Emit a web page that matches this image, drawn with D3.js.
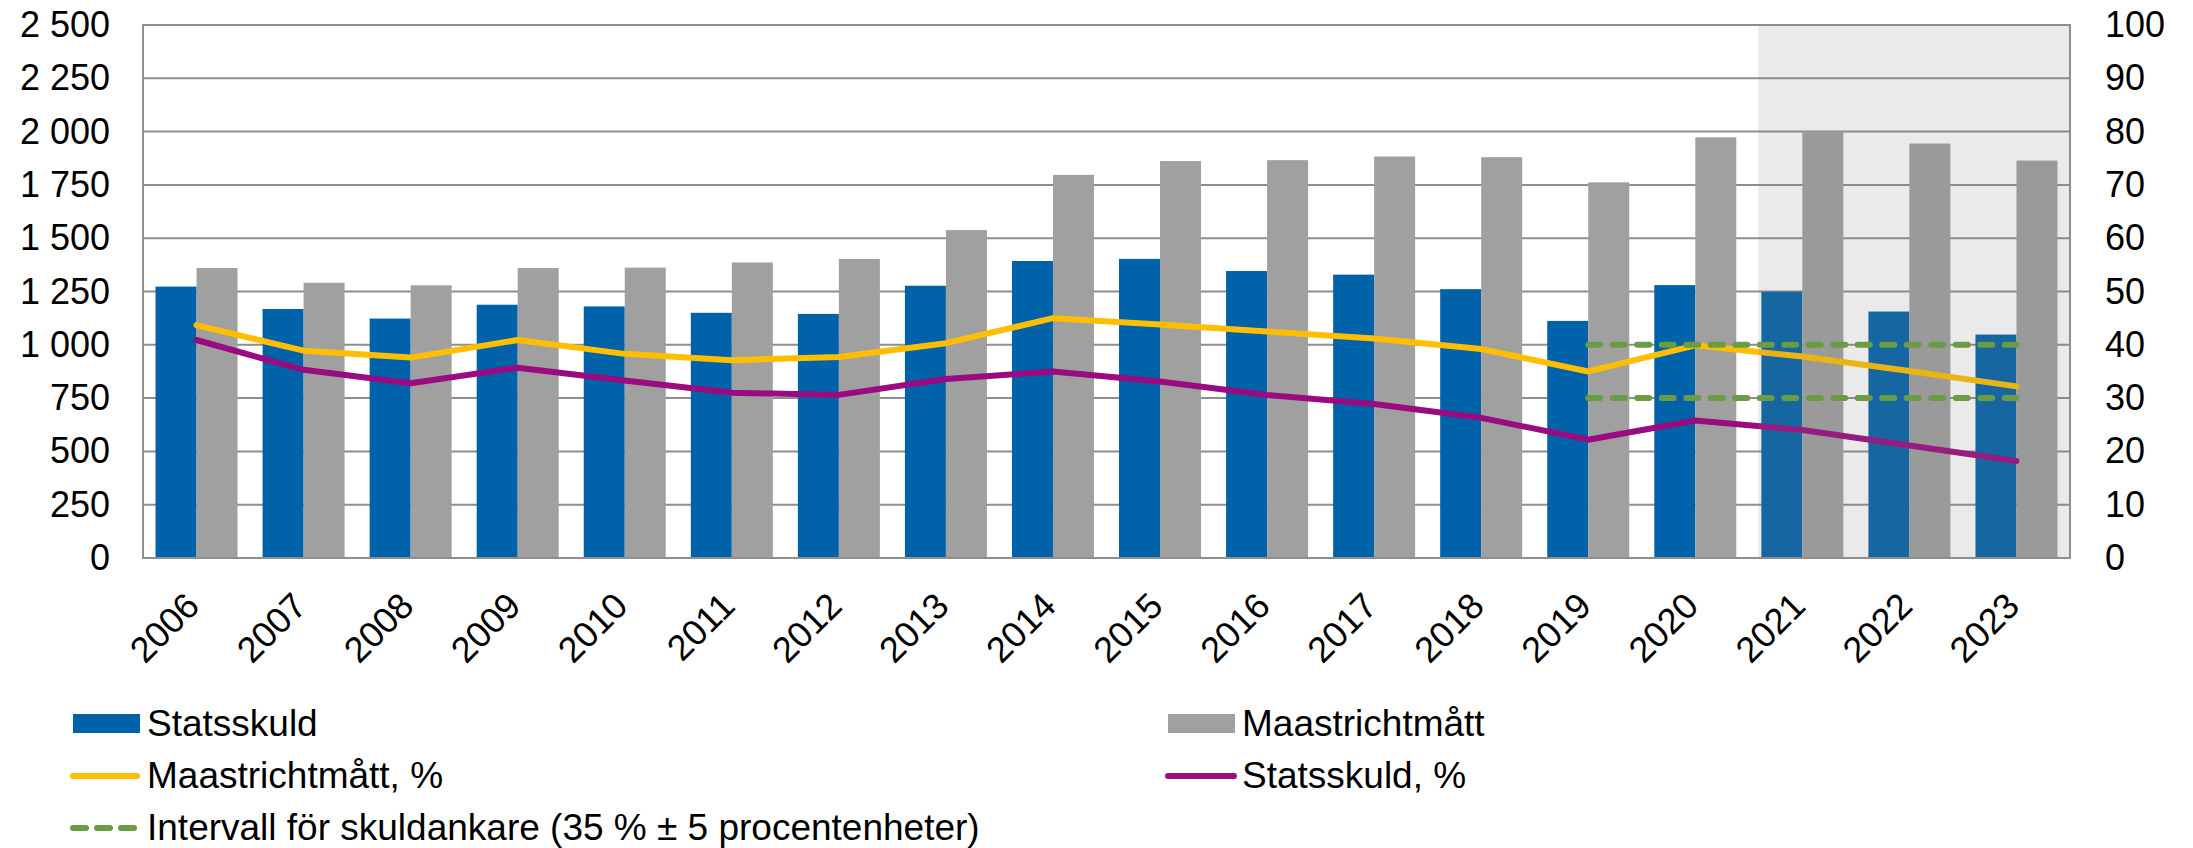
<!DOCTYPE html>
<html>
<head>
<meta charset="utf-8">
<script src="https://cdn.jsdelivr.net/npm/d3@7"></script>
<style>
  html, body { margin: 0; padding: 0; background: #ffffff; }
  svg text { font-family: "Liberation Sans", Arial, sans-serif; fill: #000; }
</style>
</head>
<body>
<svg id="chart" width="2193" height="848"></svg>
<script>
// ---------- data ----------
const years = ["2006","2007","2008","2009","2010","2011","2012","2013","2014","2015","2016","2017","2018","2019","2020","2021","2022","2023"];
const statsskuld = [1273,1168,1123,1188,1180,1150,1145,1277,1393,1403,1346,1329,1261,1112,1280,1249,1156,1048];
const maastricht = [1360,1291,1279,1360,1362,1386,1403,1538,1797,1862,1866,1883,1880,1762,1973,2001,1944,1864];
const maastrichtPct = [43.7,38.9,37.6,40.9,38.3,37.1,37.7,40.3,45.0,43.8,42.5,41.2,39.2,35.0,39.9,37.8,35.1,32.2];
const statsskuldPct = [40.9,35.3,32.8,35.7,33.3,31.0,30.6,33.6,35.0,33.1,30.6,28.9,26.3,22.2,25.8,24.0,21.1,18.2];
const anchorYears = ["2019","2020","2021","2022","2023"];
const anchorUpper = [40,40,40,40,40];
const anchorLower = [30,30,30,30,30];
const shadeFrom = "2021";
const leftTicks = [0,250,500,750,1000,1250,1500,1750,2000,2250,2500];
const rightTicks = [0,10,20,30,40,50,60,70,80,90,100];
const barSeries = ["Statsskuld","Maastrichtmått"];
const legendLabels = ["Statsskuld","Maastrichtmått","Maastrichtmått, %","Statsskuld, %","Intervall för skuldankare (35 % ± 5 procentenheter)"];

// ---------- styles ----------
const C = {
  blue: "#0062a8", gray: "#a0a0a0", yellow: "#ffbf00", purple: "#9a0a80",
  green: "#6a9b45", grid: "#8e8e8e", shade: "rgba(128,128,128,0.165)"
};
const FS = 36, LFS = 37;
const L = 143, R = 2070, T = 25, B = 558;

const svg = d3.select("#chart");

const x = d3.scaleBand().domain(years).range([L, R]).paddingInner(0.234).paddingOuter(0.117);
const x1 = d3.scaleBand().domain(barSeries).range([0, x.bandwidth()]);
const yL = d3.scaleLinear().domain([0, 2500]).range([B, T]);
const yR = d3.scaleLinear().domain([0, 100]).range([B, T]);
const cx = d => x(d) + x.bandwidth() / 2;

const loc = d3.formatLocale({decimal: ",", thousands: " ", grouping: [3], currency: ["", ""]});
const fmt = loc.format(",");

// gridlines
svg.append("g").selectAll("line").data(leftTicks).join("line")
  .attr("x1", L).attr("x2", R)
  .attr("y1", d => yL(d)).attr("y2", d => yL(d))
  .attr("stroke", C.grid).attr("stroke-width", 2);

// bars
const groups = svg.append("g").selectAll("g").data(years).join("g")
  .attr("transform", d => `translate(${x(d)},0)`);
groups.append("rect")
  .attr("x", x1("Statsskuld")).attr("width", x1.bandwidth())
  .attr("y", (d, i) => yL(statsskuld[i])).attr("height", (d, i) => B - yL(statsskuld[i]))
  .attr("fill", C.blue);
groups.append("rect")
  .attr("x", x1("Maastrichtmått")).attr("width", x1.bandwidth())
  .attr("y", (d, i) => yL(maastricht[i])).attr("height", (d, i) => B - yL(maastricht[i]))
  .attr("fill", C.gray);

// lines
const line = d3.line().x(d => cx(d[0])).y(d => yR(d[1]));
svg.append("path").datum(years.map((y, i) => [y, maastrichtPct[i]]))
  .attr("d", line).attr("fill", "none").attr("stroke", C.yellow)
  .attr("stroke-width", 6).attr("stroke-linejoin", "round").attr("stroke-linecap", "round");
svg.append("path").datum(years.map((y, i) => [y, statsskuldPct[i]]))
  .attr("d", line).attr("fill", "none").attr("stroke", C.purple)
  .attr("stroke-width", 6).attr("stroke-linejoin", "round").attr("stroke-linecap", "round");

// shaded forecast region
const shadeX = x(shadeFrom) - 3;
svg.append("rect").attr("x", shadeX).attr("y", T).attr("width", R - shadeX).attr("height", B - T)
  .attr("fill", C.shade);

// anchor interval dashed lines
[anchorUpper, anchorLower].forEach(arr => {
  svg.append("path").datum(anchorYears.map((y, i) => [y, arr[i]]))
    .attr("d", line).attr("fill", "none").attr("stroke", C.green)
    .attr("stroke-width", 6).attr("stroke-linecap", "round")
    .attr("stroke-dasharray", "12,12.5");
});

// plot border
svg.append("rect").attr("x", L).attr("y", T).attr("width", R - L).attr("height", B - T)
  .attr("fill", "none").attr("stroke", C.grid).attr("stroke-width", 2);

// left axis
const axL = svg.append("g").attr("transform", `translate(${L},0)`)
  .call(d3.axisLeft(yL).tickValues(leftTicks).tickFormat(fmt).tickSize(0).tickPadding(33));
axL.select(".domain").remove();
axL.selectAll("text").attr("font-size", FS).attr("font-family", "Liberation Sans, Arial, sans-serif").attr("fill", "#000");

// right axis
const axR = svg.append("g").attr("transform", `translate(${R},0)`)
  .call(d3.axisRight(yR).tickValues(rightTicks).tickFormat(d3.format("d")).tickSize(0).tickPadding(35));
axR.select(".domain").remove();
axR.selectAll("text").attr("font-size", FS).attr("font-family", "Liberation Sans, Arial, sans-serif").attr("fill", "#000");

// x labels
svg.append("g").selectAll("text").data(years).join("text")
  .attr("transform", d => `translate(${cx(d) + 5},608) rotate(-45)`)
  .attr("text-anchor", "end").attr("font-size", FS).text(d => d);

// legend
const lg = svg.append("g");
const rowsY = [724, 776, 828];
const col = [70, 1165];
// row 1 bars
lg.append("rect").attr("x", col[0] + 3).attr("y", rowsY[0] - 10).attr("width", 67).attr("height", 19).attr("fill", C.blue);
lg.append("rect").attr("x", col[1] + 3).attr("y", rowsY[0] - 10).attr("width", 67).attr("height", 19).attr("fill", C.gray);
// row 2 lines
lg.append("line").attr("x1", col[0] + 3).attr("x2", col[0] + 67).attr("y1", rowsY[1]).attr("y2", rowsY[1])
  .attr("stroke", C.yellow).attr("stroke-width", 6).attr("stroke-linecap", "round");
lg.append("line").attr("x1", col[1] + 3).attr("x2", col[1] + 69).attr("y1", rowsY[1]).attr("y2", rowsY[1])
  .attr("stroke", C.purple).attr("stroke-width", 6).attr("stroke-linecap", "round");
// row 3 dashed
lg.append("line").attr("x1", col[0] + 3).attr("x2", col[0] + 70).attr("y1", rowsY[2]).attr("y2", rowsY[2])
  .attr("stroke", C.green).attr("stroke-width", 6).attr("stroke-linecap", "round").attr("stroke-dasharray", "13,11");
const legendPos = [[col[0], rowsY[0]], [col[1], rowsY[0]], [col[0], rowsY[1]], [col[1], rowsY[1]], [col[0], rowsY[2]]];
lg.selectAll("text").data(legendLabels).join("text")
  .attr("x", (d, i) => legendPos[i][0] + 77).attr("y", (d, i) => legendPos[i][1] + 12)
  .attr("font-size", LFS).text(d => d);
</script>
</body>
</html>
